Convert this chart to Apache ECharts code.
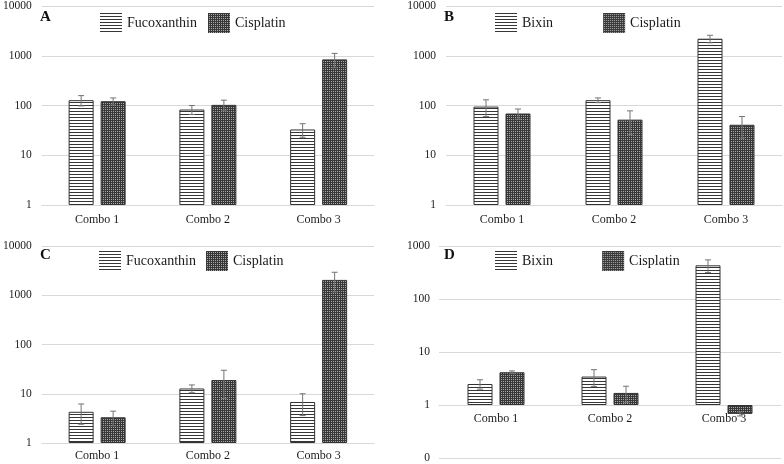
<!DOCTYPE html>
<html>
<head>
<meta charset="utf-8">
<script src="https://cdn.jsdelivr.net/npm/echarts@6/dist/echarts.min.js"></script>
<style>html,body{margin:0;padding:0;background:#fff}#c{width:784px;height:464px}</style>
</head>
<body>
<div id="c"></div>
<script>
// ---- data ----
const categories = ['Combo 1', 'Combo 2', 'Combo 3'];
const panelLabels = ['A', 'B', 'C', 'D'];
const carotenoidNames = ['Fucoxanthin', 'Bixin', 'Fucoxanthin', 'Bixin'];
const drugName = 'Cisplatin';

const A_carotenoid = [128, 83, 33];
const A_carotenoidErr = [30, 17, 10];
const A_cisplatin = [122, 103, 845];
const A_cisplatinErr = [20, 25, 270];

const B_carotenoid = [95, 128, 2200];
const B_carotenoidErr = [35, 14, 380];
const B_cisplatin = [69, 52, 41];
const B_cisplatinErr = [16, 26, 19];

const C_carotenoid = [4.3, 12.8, 6.8];
const C_carotenoidErr = [1.9, 2.3, 3.2];
const C_cisplatin = [3.33, 19, 2050];
const C_cisplatinErr = [1.1, 11, 880];

const D_carotenoid = [2.49, 3.44, 432];
const D_carotenoidErr = [0.5, 1.2, 115];
const D_cisplatin = [4.15, 1.69, 0.68];
const D_cisplatinErr = [0.25, 0.57, 0.06];

const yMin = [1, 1, 1, 0.1];
const yMax = [10000, 10000, 10000, 1000];

// ---- patterns ----
function stripePattern() {
  const c = document.createElement('canvas');
  c.width = 4; c.height = 3;
  const g = c.getContext('2d');
  g.fillStyle = '#ffffff'; g.fillRect(0, 0, 4, 3);
  g.fillStyle = '#363636'; g.fillRect(0, 0, 4, 1);
  return c;
}
function dotPattern() {
  const c = document.createElement('canvas');
  c.width = 4; c.height = 4;
  const g = c.getContext('2d');
  g.fillStyle = '#383838'; g.fillRect(0, 0, 4, 4);
  g.fillStyle = '#a8a8a8';
  g.fillRect(1, 1, 1, 1); g.fillRect(3, 3, 1, 1);
  g.fillRect(1, 3, 1, 1); g.fillRect(3, 1, 1, 1);
  return c;
}
const stripeFill = { image: stripePattern(), repeat: 'repeat' };
const dotFill = { image: dotPattern(), repeat: 'repeat' };

const FONT = 'Liberation Serif';
const BAR_W = 25;
const BAR_OFF = 16;

const panels = [
  { car: A_carotenoid, carE: A_carotenoidErr, cis: A_cisplatin, cisE: A_cisplatinErr },
  { car: B_carotenoid, carE: B_carotenoidErr, cis: B_cisplatin, cisE: B_cisplatinErr },
  { car: C_carotenoid, carE: C_carotenoidErr, cis: C_cisplatin, cisE: C_cisplatinErr },
  { car: D_carotenoid, carE: D_carotenoidErr, cis: D_cisplatin, cisE: D_cisplatinErr }
];

const grids = [
  { left: 40, width: 334, top: 5, height: 200 },
  { left: 446, width: 336, top: 5, height: 200 },
  { left: 40, width: 334, top: 246, height: 197 },
  { left: 439, width: 342, top: 246, height: 212 }
];
const xLabelMargin = [9, 9, 7, 8];
const xOffset = [0, 0, 0, -53];
const yLabelMargin = [10, 10, 10, 9];
const legendPos = [
  { left: 100, top: 13, itemGap: 11 },
  { left: 495, top: 13, itemGap: 50 },
  { left: 99, top: 251, itemGap: 10 },
  { left: 495, top: 251, itemGap: 49 }
];
const titlePos = [
  { left: 40, top: 10 }, { left: 444, top: 10 },
  { left: 40, top: 248 }, { left: 444, top: 248 }
];

const xAxes = [], yAxes = [], series = [], legends = [], titles = [];

function errSeries(i, vals, errs, off) {
  return {
    type: 'custom',
    xAxisIndex: i, yAxisIndex: i,
    z: 10,
    silent: true,
    data: vals.map((v, k) => [k, v, errs[k]]),
    encode: { x: 0, y: 1 },
    renderItem: function (params, api) {
      const k = api.value(0), v = api.value(1), e = api.value(2);
      const hi = api.coord([k, v + e]);
      const lo = api.coord([k, v - e]);
      const x = hi[0] + off;
      const st = { stroke: '#747474', lineWidth: 1 };
      return {
        type: 'group',
        children: [
          { type: 'line', shape: { x1: x, y1: hi[1], x2: x, y2: lo[1] }, style: st },
          { type: 'line', shape: { x1: x - 3, y1: hi[1], x2: x + 3, y2: hi[1] }, style: st },
          { type: 'line', shape: { x1: x - 3, y1: lo[1], x2: x + 3, y2: lo[1] }, style: st }
        ]
      };
    }
  };
}

panels.forEach((p, i) => {
  xAxes.push({
    type: 'category', gridIndex: i, data: categories,
    offset: xOffset[i],
    axisLine: { lineStyle: { color: '#d9d9d9' } },
    axisTick: { show: false },
    axisLabel: { color: '#1a1a1a', fontFamily: FONT, fontSize: 12, margin: xLabelMargin[i] }
  });
  yAxes.push({
    type: 'log', logBase: 10, gridIndex: i, min: yMin[i], max: yMax[i],
    axisLine: { show: false }, axisTick: { show: false },
    splitLine: { lineStyle: { color: '#d9d9d9' } },
    axisLabel: {
      color: '#1a1a1a', fontFamily: FONT, fontSize: 11.5, margin: yLabelMargin[i],
      formatter: v => (v < 1 ? '0' : String(Math.round(v)))
    }
  });
  series.push({
    type: 'bar', name: carotenoidNames[i], xAxisIndex: i, yAxisIndex: i,
    data: p.car, barWidth: BAR_W, barGap: '28%',
    itemStyle: { color: stripeFill, borderColor: '#333333', borderWidth: 1 }
  });
  series.push({
    type: 'bar', name: drugName, xAxisIndex: i, yAxisIndex: i,
    data: p.cis, barWidth: BAR_W, barGap: '28%',
    itemStyle: { color: dotFill, borderColor: '#333333', borderWidth: 1 }
  });
  series.push(errSeries(i, p.car, p.carE, -BAR_OFF));
  series.push(errSeries(i, p.cis, p.cisE, BAR_OFF));
  legends.push({
    left: legendPos[i].left, top: legendPos[i].top, itemGap: legendPos[i].itemGap,
    orient: 'horizontal', padding: 0,
    itemWidth: 22, itemHeight: 20,
    data: [
      { name: carotenoidNames[i], icon: 'rect', itemStyle: { color: stripeFill, borderWidth: 0 } },
      { name: drugName, icon: 'rect', itemStyle: { color: dotFill, borderWidth: 0 } }
    ],
    textStyle: { color: '#1a1a1a', fontFamily: FONT, fontSize: 14 },
    selectedMode: false
  });
  titles.push({
    text: panelLabels[i], left: titlePos[i].left, top: titlePos[i].top, padding: 0,
    textStyle: { color: '#111', fontFamily: FONT, fontSize: 15, fontWeight: 'bold' }
  });
});

const chart = echarts.init(document.getElementById('c'), null, { renderer: 'canvas' });
chart.setOption({
  animation: false,
  backgroundColor: '#ffffff',
  title: titles,
  legend: legends,
  grid: grids,
  xAxis: xAxes,
  yAxis: yAxes,
  series: series
});
</script>
</body>
</html>
